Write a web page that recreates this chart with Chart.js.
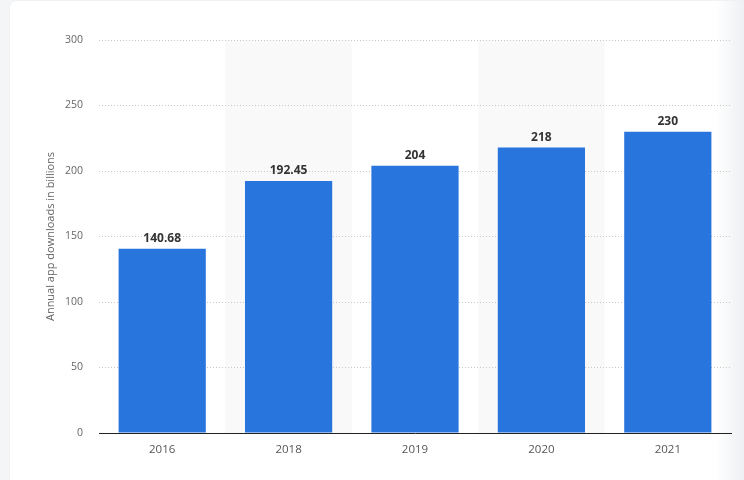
<!DOCTYPE html>
<html>
<head>
  <meta charset="UTF-8">
  <title>Annual app downloads</title>
  <script src="https://cdn.jsdelivr.net/npm/chart.js"></script>
  <style>
    html, body { margin: 0; padding: 0; }
    body { width: 744px; height: 480px; background: #f4f5f7; position: relative; overflow: hidden; }
    #card { position: absolute; left: 10px; top: 1px; width: 800px; height: 520px; background: #fff; border-radius: 6px; box-shadow: 0 0 3px rgba(0,0,0,0.04); }
    #fade { position: absolute; left: 716px; top: 0; width: 28px; height: 480px; background: linear-gradient(to right, rgba(244,245,247,0), #eef0f3); }
    #wrap { position: absolute; left: 0; top: 0; width: 744px; height: 480px; }
  </style>
</head>
<body>
  <div id="card"></div>
  <div id="fade"></div>
  <div id="wrap"><canvas id="chart" width="744" height="480"></canvas></div>

  <script>
    // values
    const years = ['2016', '2018', '2019', '2020', '2021'];
    const downloads = [140.68, 192.45, 204, 218, 230];
    const valueLabels = ['140.68', '192.45', '204', '218', '230'];

    const fontFamily = '"Open Sans", "Noto Sans", sans-serif';

    // light stripes behind every second category
    const stripes = {
      id: 'stripes',
      beforeDraw(chart) {
        const { ctx, chartArea, scales } = chart;
        const x = scales.x;
        const step = x.getPixelForValue(1) - x.getPixelForValue(0);
        ctx.save();
        ctx.fillStyle = '#f9f9f9';
        years.forEach((y, i) => {
          if (i % 2 === 1) {
            const c = x.getPixelForValue(i);
            ctx.fillRect(c - step / 2, chartArea.top, step, chartArea.bottom - chartArea.top);
          }
        });
        ctx.restore();
      }
    };

    // value labels above the bars
    const barLabels = {
      id: 'barLabels',
      afterDatasetsDraw(chart) {
        const { ctx } = chart;
        const meta = chart.getDatasetMeta(0);
        ctx.save();
        ctx.font = 'bold 12px ' + fontFamily;
        ctx.fillStyle = '#333333';
        ctx.textAlign = 'center';
        ctx.textBaseline = 'bottom';
        meta.data.forEach((bar, i) => {
          ctx.fillText(valueLabels[i], bar.x, bar.y - 4);
        });
        ctx.restore();
      }
    };

    const ctx = document.getElementById('chart').getContext('2d');
    new Chart(ctx, {
      type: 'bar',
      data: {
        labels: years,
        datasets: [{
          data: downloads,
          backgroundColor: '#2876dd',
          barPercentage: 0.69,
          categoryPercentage: 1.0
        }]
      },
      options: {
        responsive: false,
        animation: false,
        events: [],
        layout: { padding: { left: 40, right: 13, top: 40, bottom: 0 } },
        plugins: {
          legend: { display: false },
          tooltip: { enabled: false }
        },
        scales: {
          x: {
            grid: { display: false, drawTicks: false },
            border: { display: true, color: '#222222', width: 1 },
            ticks: { color: '#555555', padding: 10, font: { family: fontFamily, size: 11.5 } },
            afterFit(scale) { scale.height = 47; }
          },
          y: {
            min: 0,
            max: 300,
            ticks: { stepSize: 50, color: '#666666', padding: 16, font: { family: fontFamily, size: 10.5 } },
            grid: {
              drawTicks: false,
              color: (c) => c.tick && c.tick.value === 0 ? 'rgba(0,0,0,0)' : '#c8c8c8',
              lineWidth: 1
            },
            border: { display: false, dash: [1, 2] },
            title: {
              display: true,
              text: 'Annual app downloads in billions',
              color: '#666666',
              padding: { top: 4, bottom: 4 },
              font: { family: fontFamily, size: 11 }
            },
            afterFit(scale) { scale.width = 59; }
          }
        }
      },
      plugins: [stripes, barLabels]
    });
  </script>
</body>
</html>
